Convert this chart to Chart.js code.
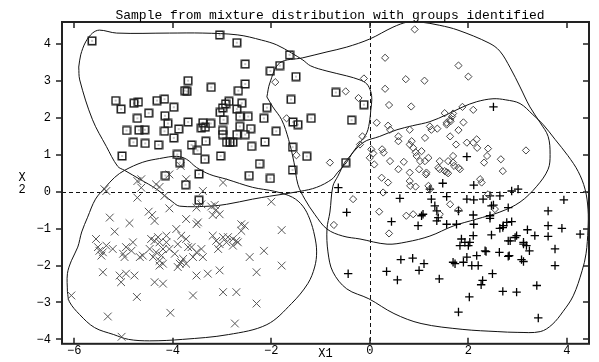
<!DOCTYPE html>
<html>
<head>
<meta charset="utf-8">
<script src="https://cdn.jsdelivr.net/npm/chart.js@4/dist/chart.umd.min.js"></script>
<style>
  html, body { margin: 0; padding: 0; background: #fff; }
  #wrap { width: 599px; height: 362px; position: relative; }
</style>
</head>
<body>
<div id="wrap"><canvas id="chart"></canvas></div>
<script>
// tick labels
const xTicks = [-6, -4, -2, 0, 2, 4];
const yTicks = [-4, -3, -2, -1, 0, 1, 2, 3, 4];

// group 1: squares (top left)
const squares = [
  [-5.64,4.09],[-3.05,4.25],[-2.70,4.04],[-1.63,3.71],[-2.53,3.46],[-1.83,3.42],[-2.02,3.27],[-1.50,3.12],
  [-3.69,3.01],[-3.76,2.74],[-3.71,2.72],[-3.22,2.83],[-2.53,2.92],[-2.67,2.74],[-1.60,2.50],[-5.16,2.47],
  [-5.05,2.24],[-4.79,2.40],[-4.70,2.43],[-4.49,2.13],[-4.32,2.47],[-4.17,2.51],[-3.98,2.29],[-4.72,1.99],
  [-4.16,2.06],[-4.10,1.85],[-3.69,1.89],[-3.88,1.70],[-4.94,1.66],[-4.69,1.67],[-4.57,1.68],[-4.17,1.64],
  [-3.98,1.46],[-4.80,1.34],[-4.56,1.31],[-4.29,1.27],[-3.62,1.27],[-3.50,1.12],[-3.33,1.37],[-3.42,1.73],
  [-3.34,1.75],[-3.39,1.87],[-3.23,1.85],[-3.04,2.15],[-2.99,2.27],[-2.93,2.38],[-2.86,2.45],[-2.97,1.95],
  [-2.70,2.24],[-2.60,2.40],[-2.64,2.04],[-2.47,2.04],[-2.64,1.77],[-2.42,1.71],[-2.99,1.66],[-2.99,1.55],
  [-2.70,1.55],[-2.53,1.55],[-2.91,1.34],[-2.84,1.34],[-2.78,1.34],[-2.40,1.23],[-2.13,1.35],[-2.15,1.99],
  [-2.09,2.28],[-1.90,1.64],[-1.56,1.89],[-1.46,1.82],[-1.57,1.21],[-5.03,0.97],[-3.91,1.01],[-3.35,0.88],
  [-3.03,0.97],[-2.24,0.76],[-1.28,0.96],[-1.57,0.59],[-4.15,0.44],[-3.47,0.48],[-3.74,0.19],[-2.45,0.44],
  [-2.02,0.36],[-3.47,-0.23],[-3.86,0.79],[-1.19,1.99],[-0.69,2.69],[-0.37,1.94],[-0.12,2.36],[-0.49,0.79]
];

// group 2: diamonds (top right)
const diamonds = [
  [0.91,4.40],[0.31,3.63],[0.73,3.05],[1.11,3.01],[0.31,2.79],[-0.12,3.07],[-0.49,2.72],[-0.23,2.54],
  [0.39,2.35],[0.84,2.31],[-1.92,2.97],[-1.69,1.99],[-1.49,0.99],[-0.81,0.79],[1.80,3.42],[2.00,3.12],
  [0.14,1.87],[0.37,1.79],[0.41,1.68],[0.58,1.50],[0.58,1.37],[0.81,1.68],[0.85,1.37],[1.12,1.46],
  [1.22,1.77],[1.25,1.68],[1.37,1.71],[1.56,1.87],[1.64,1.91],[1.52,2.13],[1.69,2.12],[1.67,2.04],
  [1.88,2.30],[2.10,2.22],[1.90,1.88],[1.80,1.67],[1.63,1.50],[1.75,1.28],[1.97,1.33],[2.10,1.33],
  [2.17,1.42],[1.63,1.95],[1.56,1.82],[-0.15,1.50],[-0.20,1.28],[0.03,1.15],[0.07,1.04],[0.00,0.92],
  [0.25,1.15],[0.28,1.06],[0.41,0.83],[0.58,0.61],[0.69,0.81],[0.81,1.28],[0.88,1.19],[1.05,1.10],
  [1.02,0.83],[1.12,0.83],[0.95,0.97],[1.19,0.92],[1.15,0.52],[0.81,0.52],[0.81,0.29],[0.82,0.16],
  [0.93,0.14],[1.19,0.16],[1.22,0.07],[1.42,0.83],[1.39,0.65],[1.59,0.83],[1.69,0.97],[1.80,0.65],
  [1.52,0.56],[0.24,0.38],[0.37,0.25],[0.27,-0.02],[-0.34,-0.20],[0.19,-0.54],[0.74,-0.65],[0.88,-0.61],
  [0.09,0.74],[0.93,1.07],[1.00,0.61],[1.14,0.47],[1.42,0.61],[1.56,0.53],[2.18,1.19],[2.40,1.17],
  [2.38,0.97],[2.32,0.79],[2.66,0.88],[2.70,0.56],[3.17,1.12],[1.69,0.79],[1.71,0.70],[1.59,0.50],
  [1.83,0.61],[2.24,0.34],[2.27,0.25],[2.40,-0.07],[2.54,-0.47],[1.63,-0.34],[1.80,-0.49],[1.42,-0.61],
  [-0.73,-0.90],[0.39,-1.13]
];

// group 3: crosses (bottom left)
const crosses = [
  [-5.35,0.02],[-5.39,0.07],[-4.72,0.29],[-4.72,-0.16],[-4.64,0.11],[-4.34,0.20],[-4.27,0.13],[-4.07,0.47],
  [-4.17,-0.11],[-3.73,0.34],[-3.39,0.02],[-2.98,0.25],[-2.00,-0.27],[-4.64,0.34],[-3.84,0.70],
  [-4.49,-0.54],[-4.42,-0.63],[-4.37,-0.79],[-5.28,-0.70],[-4.88,-0.85],[-4.07,-0.45],[-3.73,-0.74],
  [-3.52,-0.88],[-3.49,-0.83],[-3.52,-0.43],[-3.42,-0.34],[-3.22,-0.40],[-3.15,-0.36],[-3.12,-0.49],
  [-3.05,-0.61],[-3.19,-0.63],[-2.61,-0.88],[-2.54,-0.92],[-1.79,-1.04],[-2.98,-1.23],[-2.88,-1.23],
  [-2.78,-1.28],[-2.71,-1.33],[-2.91,-1.37],[-2.78,-1.46],[-2.68,-1.37],[-2.61,-1.06],[-3.19,-1.19],
  [-3.12,-1.33],[-3.08,-1.55],[-3.05,-1.42],[-3.42,-1.55],[-3.39,-1.77],[-3.59,-1.77],[-3.52,-1.64],
  [-3.62,-1.50],[-3.93,-1.01],[-3.83,-1.19],[-3.90,-1.42],[-3.73,-1.28],[-3.69,-1.50],[-4.13,-1.19],
  [-4.13,-1.37],[-4.20,-1.55],[-4.07,-1.55],[-3.96,-1.68],[-3.79,-1.82],[-3.83,-1.91],[-3.73,-1.95],
  [-4.44,-1.28],[-4.37,-1.33],[-4.30,-1.23],[-4.27,-1.37],[-4.23,-1.73],[-4.34,-1.64],[-4.47,-1.55],
  [-4.27,-1.87],[-4.20,-1.95],[-4.40,-1.77],[-4.67,-1.77],[-4.61,-1.73],[-4.81,-1.37],[-4.84,-1.60],
  [-4.95,-1.50],[-5.01,-1.68],[-4.98,-1.77],[-5.08,-2.27],[-5.05,-2.45],[-4.95,-2.22],[-4.78,-2.27],
  [-5.22,-1.55],[-5.18,-1.08],[-5.56,-1.28],[-5.52,-1.50],[-5.49,-1.60],[-5.42,-1.64],[-5.35,-1.46],
  [-5.45,-1.73],[-5.42,-2.18],[-6.06,-2.81],[-5.32,-3.38],[-5.04,-3.93],[-4.73,-2.85],[-4.37,-2.45],
  [-4.20,-2.49],[-4.05,-3.28],[-3.59,-2.81],[-3.52,-2.27],[-3.29,-2.22],[-3.05,-2.13],[-2.98,-2.72],
  [-2.71,-2.72],[-2.74,-3.57],[-2.30,-3.03],[-2.30,-2.18],[-2.44,-1.77],[-2.15,-1.60],[-1.79,-2.00],
  [-3.86,-1.95],[-3.90,-2.04],[-4.27,-2.00]
];

// group 4: plus signs (bottom right)
const pluses = [
  [2.51,2.30],[1.97,0.95],[1.48,0.23],[2.11,0.18],[-0.64,0.11],[0.61,-0.18],[1.22,0.07],[1.25,-0.20],
  [1.32,-0.38],[1.36,-0.52],[1.39,-0.70],[1.36,-0.79],[1.56,-0.13],[2.11,-0.22],[2.30,-0.20],[2.44,-0.11],
  [2.47,-0.38],[2.51,-0.36],[2.64,-0.11],[2.88,0.02],[3.01,0.07],[2.81,-0.43],[2.44,-0.65],[2.10,-0.63],
  [1.80,-0.52],[1.56,-0.88],[1.76,-0.88],[2.11,-0.88],[1.08,-0.61],[0.98,-0.92],[0.44,-0.81],[-0.47,-0.56],
  [-0.44,-2.22],[3.94,-0.22],[3.62,-0.52],[3.62,-0.92],[3.90,-0.99],[3.62,-1.21],[3.76,-1.55],[3.76,-2.00],
  [3.39,-2.54],[3.42,-3.42],[2.78,-0.83],[2.88,-0.81],[2.70,-0.97],[2.47,-1.17],[2.81,-1.33],[2.98,-1.19],
  [3.12,-1.37],[3.18,-1.46],[3.24,-1.60],[3.35,-1.19],[3.12,-1.89],[2.83,-1.73],[2.63,-1.64],[2.36,-1.62],
  [2.10,-1.19],[1.86,-1.28],[1.83,-1.46],[2.03,-1.37],[2.00,-1.46],[2.17,-1.73],[1.97,-1.77],[1.90,-1.91],
  [1.73,-1.95],[1.69,-1.91],[2.07,-2.00],[2.20,-2.00],[2.49,-2.22],[2.29,-2.40],[2.26,-2.52],[2.70,-2.70],
  [2.98,-2.72],[2.02,-2.85],[1.80,-3.26],[0.63,-1.84],[0.87,-1.80],[1.10,-1.95],[1.00,-2.13],[0.34,-2.16],
  [0.56,-2.39],[1.41,-2.36],[1.05,-0.65],[1.97,-0.20],[2.44,-0.72],[4.27,-1.15],[2.64,-0.99],[2.71,-0.92],
  [3.20,-1.03],[3.08,-1.84],[3.12,-1.42],[2.85,-1.33],[2.95,-1.24],[2.81,-1.75],[2.34,-1.60],[1.93,-1.37]
];

// outlines around each identified group
const squareOutline = [
  [-5.91,3.38],[-5.87,3.71],[-5.77,4.06],[-5.63,4.30],[-5.49,4.38],[-5.14,4.30],[-4.07,4.30],[-3.39,4.30],
  [-2.68,4.25],[-2.20,4.11],[-1.89,3.98],[-1.59,3.76],[-1.36,3.57],[-1.20,3.41],[-0.87,3.27],[-0.47,3.14],
  [-0.20,3.03],[-0.06,2.92],[0.02,2.71],[0.04,2.49],[0.02,2.22],[0.00,1.95],[-0.06,1.60],[-0.20,1.33],
  [-0.35,1.06],[-0.47,0.80],[-0.65,0.53],[-0.77,0.34],[-1.08,0.12],[-1.42,0.01],[-2.03,-0.12],[-2.38,-0.20],
  [-2.91,-0.34],[-3.25,-0.39],[-3.86,-0.39],[-4.00,-0.28],[-4.33,0.07],[-4.67,0.34],[-4.98,0.58],[-5.12,0.69],
  [-5.35,1.23],[-5.63,1.95],[-5.89,3.03],[-5.91,3.38]
];
const diamondOutline = [
  [-2.09,2.57],[-2.03,2.95],[-1.83,3.49],[-1.36,3.63],[-0.87,3.79],[-0.47,3.92],[0.00,4.14],[0.47,4.46],
  [0.77,4.60],[1.02,4.60],[1.42,4.51],[1.79,4.38],[2.42,4.03],[2.64,3.81],[2.85,3.36],[3.05,2.84],
  [3.25,2.30],[3.46,1.87],[3.62,1.50],[3.66,1.01],[3.62,0.61],[3.39,0.15],[3.05,-0.28],[2.64,-0.55],
  [2.17,-0.74],[1.69,-0.93],[1.22,-1.20],[0.75,-1.36],[0.35,-1.42],[-0.20,-1.28],[-0.55,-1.20],[-0.87,-1.01],
  [-1.12,-0.61],[-1.32,-0.20],[-1.46,0.20],[-1.54,0.80],[-1.65,1.42],[-1.79,1.95],[-1.97,2.30],[-2.09,2.57]
];
const crossOutline = [
  [-6.14,-2.71],[-6.14,-2.22],[-6.06,-1.87],[-5.93,-1.50],[-5.85,-1.09],[-5.73,-0.69],[-5.57,-0.20],[-5.37,0.12],
  [-5.18,0.39],[-4.98,0.58],[-4.61,0.80],[-4.27,0.90],[-3.92,0.96],[-3.72,0.88],[-3.52,0.66],[-3.25,0.47],
  [-2.91,0.34],[-2.38,0.12],[-1.93,0.01],[-1.57,-0.15],[-1.36,-0.39],[-1.22,-0.74],[-1.12,-1.20],[-1.08,-1.63],
  [-1.12,-2.04],[-1.26,-2.49],[-1.59,-3.03],[-2.09,-3.60],[-2.87,-3.87],[-3.80,-4.00],[-4.47,-4.04],[-4.90,-4.00],
  [-5.20,-3.87],[-5.59,-3.68],[-5.89,-3.33],[-6.10,-2.98],[-6.14,-2.71]
];
const plusOutline = [
  [-0.51,0.80],[-0.14,1.33],[0.20,1.50],[0.55,1.68],[0.87,1.79],[1.22,1.90],[1.56,2.09],[1.89,2.30],
  [2.17,2.44],[2.50,2.52],[2.76,2.49],[3.05,2.39],[3.31,2.09],[3.52,1.82],[3.76,1.42],[4.02,0.98],
  [4.23,0.55],[4.37,0.07],[4.43,-0.47],[4.43,-1.01],[4.39,-1.68],[4.31,-2.14],[4.13,-2.82],[3.92,-3.25],
  [3.70,-3.60],[3.46,-3.79],[2.99,-3.81],[2.60,-3.79],[1.89,-3.73],[1.04,-3.57],[0.49,-3.30],[-0.02,-2.90],
  [-0.47,-2.63],[-0.75,-2.17],[-0.85,-1.63],[-0.87,-1.01],[-0.81,-0.55],[-0.75,0.15],[-0.65,0.42],[-0.51,0.80]
];

const toPts = arr => arr.map(p => ({ x: p[0], y: p[1] }));

// square marker with a dot in the middle
function squareMarker() {
  const c = document.createElement('canvas');
  c.width = 10; c.height = 10;
  const g = c.getContext('2d');
  g.strokeStyle = '#1a1a1a';
  g.lineWidth = 1.5;
  g.strokeRect(1.25, 1.25, 7.5, 7.5);
  g.fillStyle = '#222';
  g.fillRect(4.5, 4.5, 1, 1);
  return c;
}

function outlineSet(arr) {
  return {
    type: 'line',
    data: toPts(arr),
    showLine: true,
    borderColor: '#111',
    borderWidth: 1,
    pointRadius: 0,
    tension: 0.35,
    fill: false,
    order: 5
  };
}

const frame = {
  id: 'frame',
  beforeDatasetsDraw(chart) {
    const { ctx, chartArea: a, scales: { x, y } } = chart;
    ctx.save();
    ctx.strokeStyle = '#111';
    ctx.lineWidth = 1;
    ctx.setLineDash([4, 3]);
    const x0 = Math.round(x.getPixelForValue(0)) + 0.5;
    const y0 = Math.round(y.getPixelForValue(0)) + 0.5;
    ctx.beginPath();
    ctx.moveTo(x0, a.top); ctx.lineTo(x0, a.bottom);
    ctx.moveTo(a.left, y0); ctx.lineTo(a.right, y0);
    ctx.stroke();
    ctx.restore();
  },
  afterDraw(chart) {
    const { ctx, chartArea: a, scales: { x, y } } = chart;
    ctx.save();
    ctx.strokeStyle = '#222';
    ctx.lineWidth = 2;
    ctx.strokeRect(a.left, a.top, a.right - a.left, a.bottom - a.top);
    ctx.lineWidth = 1.5;
    ctx.beginPath();
    xTicks.forEach(v => {
      const px = Math.round(x.getPixelForValue(v));
      ctx.moveTo(px, a.bottom); ctx.lineTo(px, a.bottom - 6);
      ctx.moveTo(px, a.top); ctx.lineTo(px, a.top + 6);
    });
    yTicks.forEach(v => {
      const py = Math.round(y.getPixelForValue(v));
      ctx.moveTo(a.left, py); ctx.lineTo(a.left - 6, py);
      ctx.moveTo(a.right, py); ctx.lineTo(a.right - 6, py);
    });
    ctx.stroke();

    // title and y axis label
    ctx.fillStyle = '#000';
    ctx.font = '13px "Liberation Mono"';
    ctx.textAlign = 'center';
    ctx.textBaseline = 'alphabetic';
    ctx.fillText('Sample from mixture distribution with groups identified', 330, 19);
    ctx.font = '12px "Liberation Mono"';
    ctx.textBaseline = 'middle';
    ctx.fillText('X', 22, 178);
    ctx.fillText('2', 22, 190);
    ctx.restore();
  }
};

const ctx = document.getElementById('chart').getContext('2d');
new Chart(ctx, {
  type: 'scatter',
  data: {
    datasets: [
      { data: toPts(squares), pointStyle: squareMarker(), pointRadius: 5, order: 1 },
      { data: toPts(diamonds), pointStyle: 'rectRot', pointRadius: 3.6, borderColor: '#444',
        backgroundColor: 'rgba(0,0,0,0)', borderWidth: 1, order: 2 },
      { data: toPts(crosses), pointStyle: 'crossRot', pointRadius: 5.5, borderColor: '#555', borderWidth: 1, order: 3 },
      { data: toPts(pluses), pointStyle: 'cross', pointRadius: 4.2, borderColor: '#000', borderWidth: 1.3, order: 4 },
      outlineSet(squareOutline),
      outlineSet(diamondOutline),
      outlineSet(crossOutline),
      outlineSet(plusOutline)
    ]
  },
  options: {
    responsive: true,
    maintainAspectRatio: false,
    devicePixelRatio: 1,
    animation: false,
    layout: { padding: { top: 22, right: 10, left: 0, bottom: 0 } },
    plugins: { legend: { display: false }, tooltip: { enabled: false } },
    elements: { line: { capBezierPoints: false } },
    scales: {
      x: {
        type: 'linear',
        min: -6.25,
        max: 4.45,
        afterBuildTicks: s => { s.ticks = xTicks.map(v => ({ value: v })); },
        afterFit: s => { s.height = 17; },
        grid: { display: false, drawTicks: false },
        border: { display: false },
        ticks: {
          padding: 0,
          color: '#000',
          font: { family: 'Liberation Mono', size: 12 },
          callback: v => String(v).replace('-', '\u2212')
        },
        title: { display: true, text: 'X1', color: '#000', padding: 0,
                 font: { family: 'Liberation Mono', size: 12 } }
      },
      y: {
        type: 'linear',
        min: -4.12,
        max: 4.6,
        afterBuildTicks: s => { s.ticks = yTicks.map(v => ({ value: v })); },
        afterFit: s => { s.width = 62; },
        grid: { display: false, drawTicks: false },
        border: { display: false },
        ticks: {
          padding: 11,
          color: '#000',
          font: { family: 'Liberation Mono', size: 12 },
          callback: v => String(v).replace('-', '\u2212')
        }
      }
    }
  },
  plugins: [frame]
});
</script>
</body>
</html>
